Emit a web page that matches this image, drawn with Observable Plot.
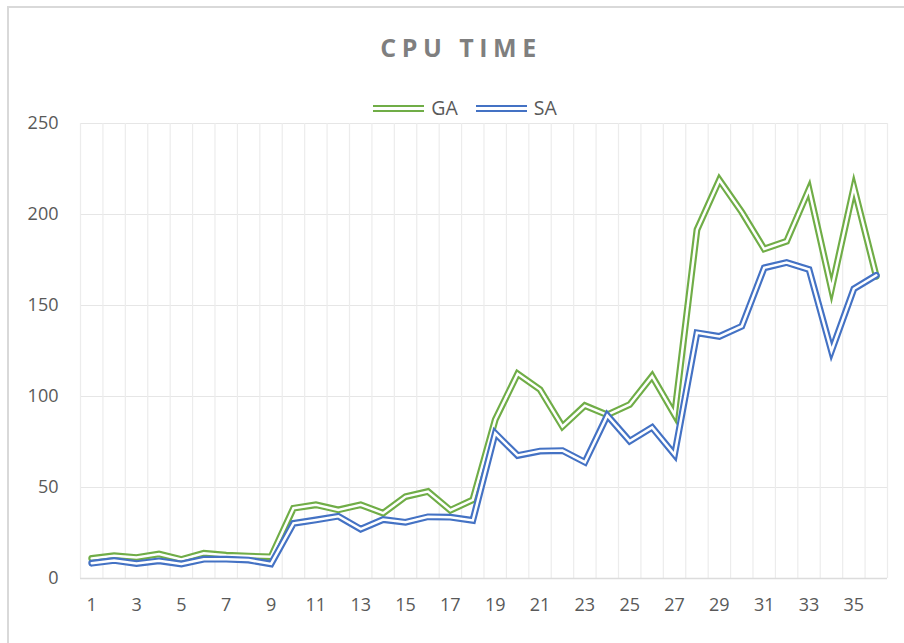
<!DOCTYPE html>
<html>
<head>
<meta charset="utf-8">
<script src="https://cdn.jsdelivr.net/npm/d3@7"></script>
<script src="https://cdn.jsdelivr.net/npm/@observablehq/plot@0.6"></script>
<style>
  html, body { margin: 0; padding: 0; background: #fff; overflow: hidden; width: 904px; height: 643px; }
  #wrap { position: relative; width: 904px; height: 643px; font-family: "Open Sans", "Noto Sans", sans-serif; }
  #frame { position: absolute; left: 7px; top: 6px; width: 1000px; height: 1000px; border: 2px solid #d9d9d9; box-sizing: border-box; z-index: 5; pointer-events: none; }
  #title { position: absolute; left: 9px; width: 904px; top: 29px; text-align: center; font-size: 25px; font-weight: bold; letter-spacing: 5.5px; color: #7f7f7f; line-height: 36px; }
  #legend { position: absolute; left: 13px; width: 904px; top: 95px; display: flex; justify-content: center; align-items: center; font-size: 19.5px; color: #595959; line-height: 26px; }
  .item { display: flex; align-items: center; margin: 0 9px; }
  .sw { width: 51px; height: 7px; box-sizing: border-box; border-top: 2px solid; border-bottom: 2px solid; margin-right: 7px; }
  #plot { position: absolute; left: 0; top: 100px; }
</style>
</head>
<body>
<div id="wrap">
  <div id="plot"></div>
  <div id="title">CPU TIME</div>
  <div id="legend"></div>
  <div id="frame"></div>
</div>
<script>
const categories = d3.range(1, 37);
const gaValues = [11, 12.5, 11.5, 13.5, 10.4, 13.9, 12.8, 12.3, 11.9, 38.6,
  40.5, 37.7, 40.5, 35.9, 45, 47.8, 37.5, 43.2, 87.2, 112.5,
  103.8, 83.5, 95, 89.9, 95.6, 111.2, 90, 191.6, 219, 201.3,
  181.1, 185.3, 213.9, 159, 215, 166];
const saValues = [8.4, 9.9, 8.2, 9.7, 8, 10.6, 10.6, 10.1, 8, 30.3,
  32.2, 34.2, 27.1, 32.4, 30.9, 33.9, 33.7, 31.9, 79.8, 67.6,
  70, 70.3, 63.9, 89.6, 75.5, 83, 68, 135, 133, 138.6,
  170.7, 173.6, 169.8, 125, 159.2, 166.6];
const seriesNames = ["GA", "SA"];
const seriesColors = ["#70AD47", "#4472C4"];
const yTicks = [0, 50, 100, 150, 200, 250];
const xTickLabels = d3.range(1, 37, 2);

const ga = categories.map((c, i) => ({x: c, y: gaValues[i]}));
const sa = categories.map((c, i) => ({x: c, y: saValues[i]}));
const bounds = d3.range(0.5, 37, 1);

// legend
const legend = document.getElementById("legend");
seriesNames.forEach((n, i) => {
  const it = document.createElement("div");
  it.className = "item";
  const sw = document.createElement("span");
  sw.className = "sw";
  sw.style.borderColor = seriesColors[i];
  const t = document.createElement("span");
  t.textContent = n;
  it.appendChild(sw); it.appendChild(t);
  legend.appendChild(it);
});

const lineOpts = (color, w) => ({x: "x", y: "y", stroke: color, strokeWidth: w, strokeLinejoin: "miter", strokeMiterlimit: 10, curve: "linear"});

const chart = Plot.plot({
  width: 904,
  height: 543,
  marginTop: 23,
  marginBottom: 65,
  marginLeft: 80,
  marginRight: 17,
  style: {fontFamily: "'Open Sans', 'Noto Sans', sans-serif", fontSize: "18px", color: "#595959", background: "transparent", overflow: "visible"},
  x: {domain: [0.5, 36.5], label: null},
  y: {domain: [0, 250], label: null},
  marks: [
    Plot.ruleY(yTicks.filter(d => d > 0), {stroke: "#e6e6e6", strokeWidth: 1.2}),
    Plot.ruleX(bounds, {stroke: "#ececec", strokeWidth: 1.2}),
    Plot.ruleY([0], {stroke: "#dcdcdc", strokeWidth: 1.5}),
    Plot.axisX({ticks: xTickLabels, tickSize: 0, tickPadding: 20, tickFormat: d => String(d), fill: "#595959", fontSize: 18}),
    Plot.axisY({ticks: yTicks, tickSize: 0, tickPadding: 22, fill: "#595959", fontSize: 18}),
    Plot.line(ga, lineOpts(seriesColors[0], 6.8)),
    Plot.line(ga, lineOpts("white", 2.5)),
    Plot.line(sa, lineOpts(seriesColors[1], 6.8)),
    Plot.line(sa, lineOpts("white", 2.5))
  ]
});
document.getElementById("plot").appendChild(chart);
</script>
</body>
</html>
